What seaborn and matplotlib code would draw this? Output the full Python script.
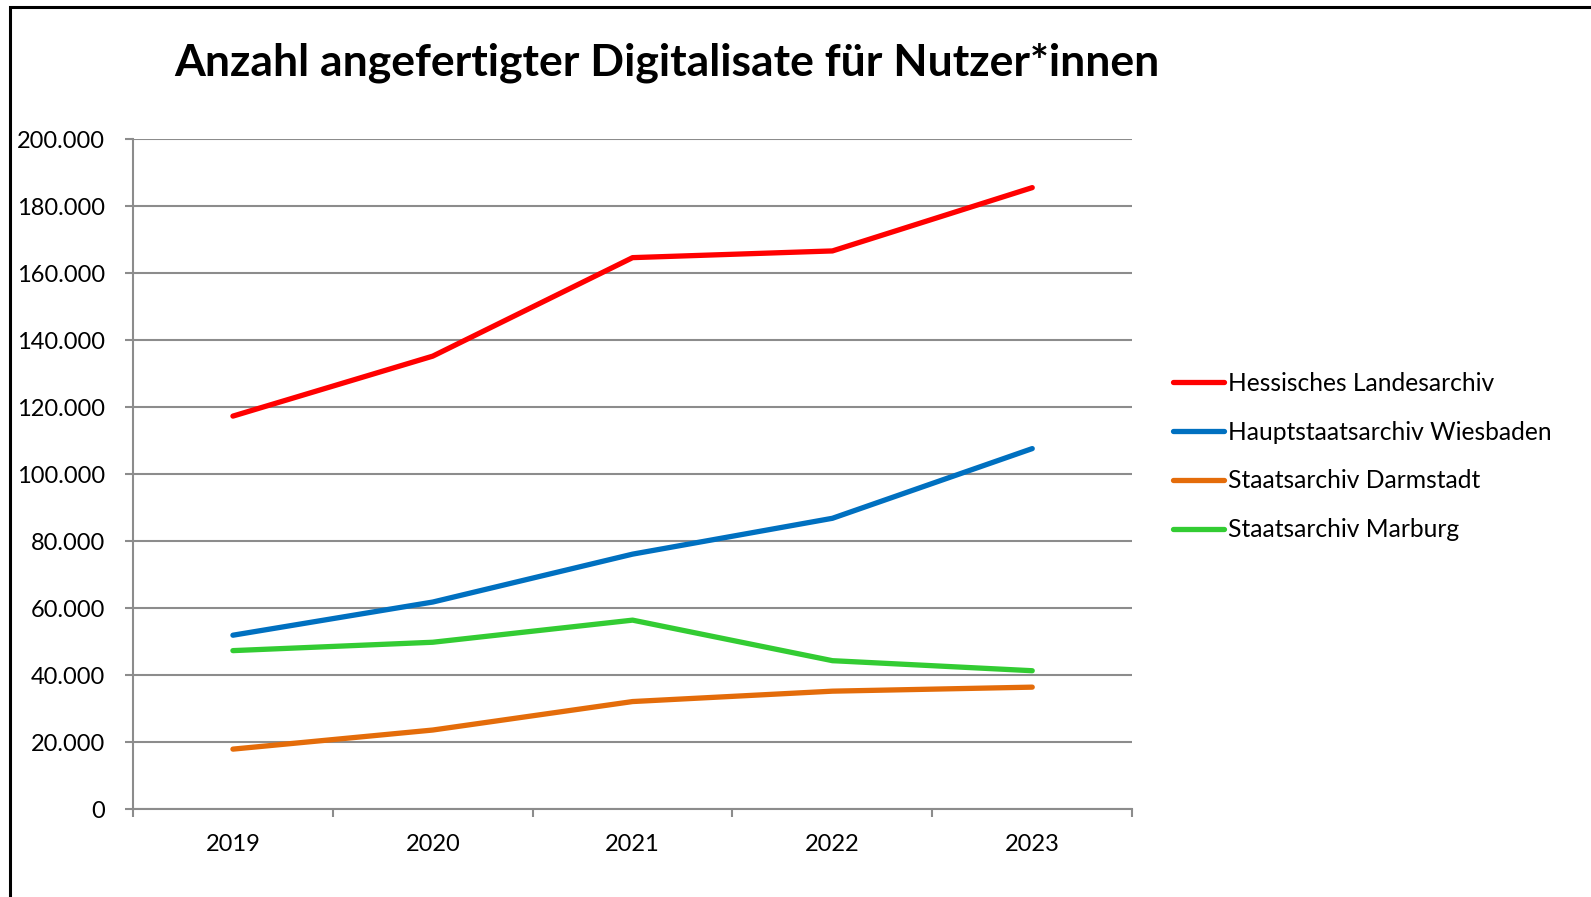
import pandas as pd
import matplotlib
matplotlib.use("Agg")
import matplotlib.pyplot as plt
from matplotlib.lines import Line2D
from matplotlib.patches import Rectangle
from matplotlib.ticker import FuncFormatter
import seaborn as sns

years = ["2019", "2020", "2021", "2022", "2023"]
series_names = ["Hessisches Landesarchiv", "Hauptstaatsarchiv Wiesbaden",
                "Staatsarchiv Darmstadt", "Staatsarchiv Marburg"]
landesarchiv = [117300, 135200, 164600, 166600, 185500]
wiesbaden = [51900, 61800, 76100, 86800, 107600]
darmstadt = [17900, 23600, 32100, 35200, 36400]
marburg = [47300, 49800, 56400, 44300, 41300]
colors = ["#FF0000", "#0070C0", "#E46C0A", "#33CC33"]

values = [landesarchiv, wiesbaden, darmstadt, marburg]
rows = []
for name, vals in zip(series_names, values):
    for i, v in enumerate(vals):
        rows.append({"x": i, "year": years[i], "archiv": name, "wert": v})
df = pd.DataFrame(rows)

sns.set_style("white")
plt.rcParams["font.family"] = ["Lato", "DejaVu Sans"]
plt.rcParams["text.color"] = "black"
plt.rcParams["xtick.labelcolor"] = "black"
plt.rcParams["ytick.labelcolor"] = "black"

fig = plt.figure(figsize=(15.91, 8.97), dpi=100)
ax = fig.add_axes([0.0836, 0.098, 0.628, 0.747])

sns.lineplot(data=df, x="x", y="wert", hue="archiv", hue_order=series_names,
             palette=colors, linewidth=3.8, ax=ax, legend=False,
             solid_capstyle="round")

grid_col = "#8C8C8C"
ax.set_ylim(0, 200000)
ax.set_yticks(range(0, 200001, 20000))
ax.yaxis.set_major_formatter(FuncFormatter(lambda v, p: f"{int(v):,}".replace(",", ".")))
ax.grid(axis="y", color=grid_col, linewidth=1.5)
ax.set_axisbelow(True)

# Kategorien-Achse: Striche zwischen den Jahren, Beschriftung in der Mitte
ax.set_xlim(-0.5, 4.5)
ax.set_xticks([-0.5, 0.5, 1.5, 2.5, 3.5, 4.5])
ax.set_xticklabels([])
ax.set_xticks(range(5), minor=True)
ax.set_xticklabels(years, minor=True)
ax.tick_params(axis="x", which="major", direction="out", length=6, width=1.5,
               color=grid_col, bottom=True)
ax.tick_params(axis="x", which="minor", length=0, pad=18, labelsize=17,
               labelcolor="black")
ax.tick_params(axis="y", direction="out", length=6, width=1.5, color=grid_col,
               left=True, pad=14, labelsize=17, labelcolor="black")
ax.set_xlabel("")
ax.set_ylabel("")

for s in ["top", "right"]:
    ax.spines[s].set_visible(False)
for s in ["left", "bottom"]:
    ax.spines[s].set_color(grid_col)
    ax.spines[s].set_linewidth(1.5)

fig.text(0.419, 0.930, "Anzahl angefertigter Digitalisate für Nutzer*innen",
         ha="center", va="center", fontsize=32, fontweight="bold", color="black")

handles = [Line2D([0], [0], color=c, linewidth=3.8, solid_capstyle="round") for c in colors]
fig.legend(handles, series_names, loc="center left", bbox_to_anchor=(0.731, 0.491),
           frameon=False, fontsize=17.7, handlelength=2.1, handletextpad=0.15,
           labelspacing=1.05, borderaxespad=0)

# Rahmen des Diagramms (oben und links sichtbar)
fig.patches.append(Rectangle((10 / 1591, -0.1), 1.2, 1.1 - 7 / 897,
                             transform=fig.transFigure, fill=False,
                             edgecolor="black", linewidth=2.2))

fig.savefig("out.png", dpi=100)
